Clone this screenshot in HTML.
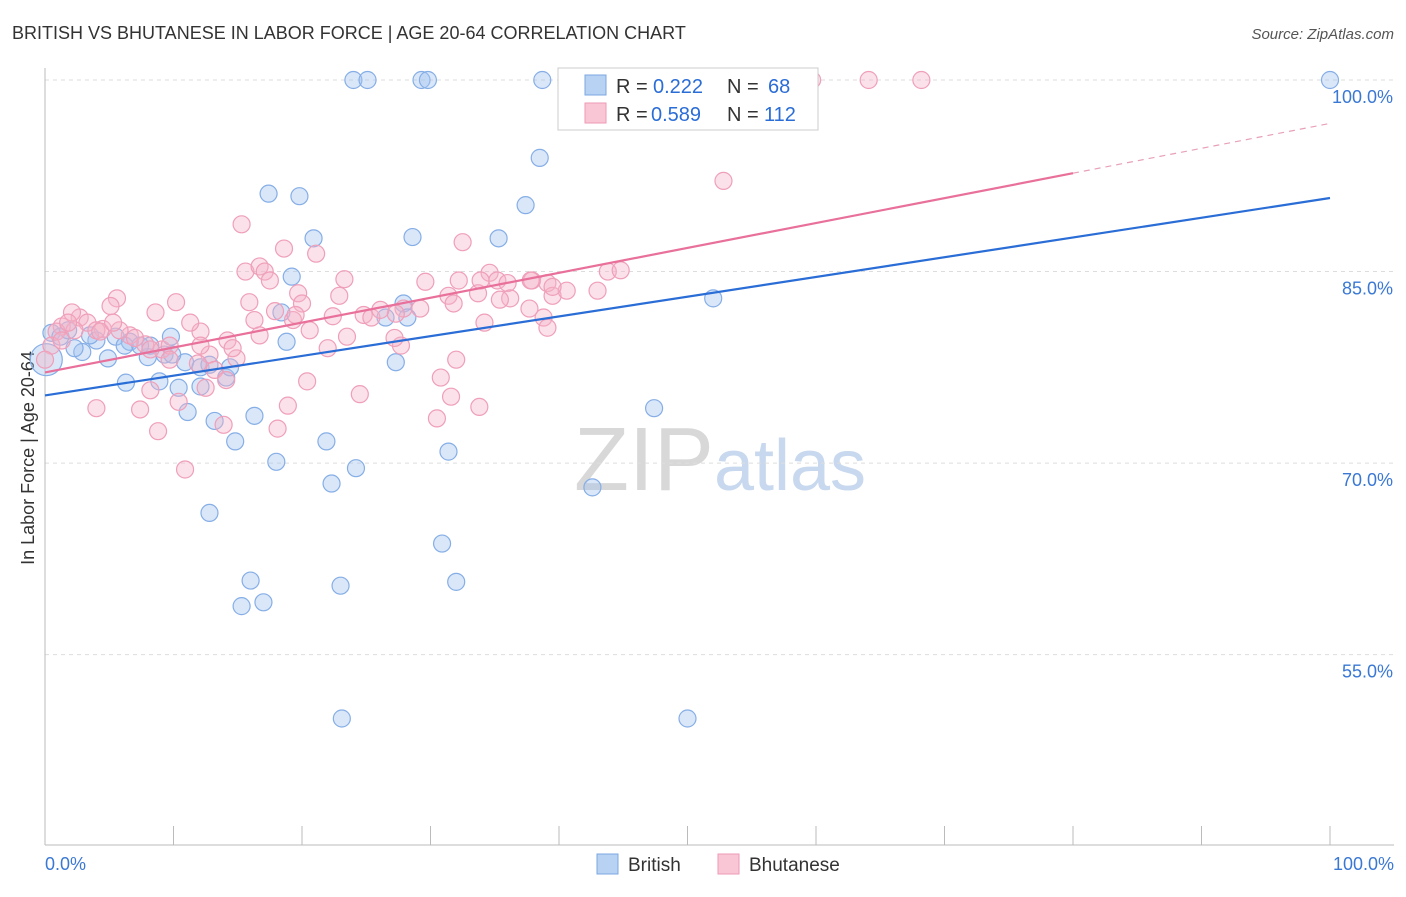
<!DOCTYPE html>
<html><head><meta charset="utf-8">
<style>
body{margin:0;background:#fff;font-family:"Liberation Sans",sans-serif;}
svg text{font-family:"Liberation Sans",sans-serif;}
</style></head>
<body>
<svg id="chart" width="1406" height="892" xmlns="http://www.w3.org/2000/svg">
<text x="12" y="39" font-size="18" fill="#333">BRITISH VS BHUTANESE IN LABOR FORCE | AGE 20-64 CORRELATION CHART</text>
<text x="1394" y="39" font-size="15" fill="#555" text-anchor="end" font-style="italic">Source: ZipAtlas.com</text>
<text transform="translate(34,458) rotate(-90)" font-size="18" fill="#333" text-anchor="middle">In Labor Force | Age 20-64</text>
<text x="720" y="490" font-size="90" text-anchor="middle" fill="#ddd" font-family="Liberation Serif"><tspan fill="#d8d8d8">ZIP</tspan><tspan fill="#c8d8ee" font-family="Liberation Sans" font-size="72">atlas</tspan></text>
<g id="grid"></g><g id="axes"></g><g id="blue"></g><g id="pink"></g><g id="lines"></g>
<g>
<rect x="558" y="68" width="260" height="62" fill="#fff" stroke="#ccc"/>
<rect x="585" y="75" width="21" height="20" fill="#b8d2f4" stroke="#7ba7e0"/>
<rect x="585" y="103" width="21" height="20" fill="#f9c6d5" stroke="#ee9ab5"/>
<text x="616" y="93" font-size="20" fill="#333">R =</text>
<text x="653" y="93" font-size="20" fill="#2a6dd6">0.222</text>
<text x="727" y="93" font-size="20" fill="#333">N =</text>
<text x="768" y="93" font-size="20" fill="#2a6dd6">68</text>
<text x="616" y="121" font-size="20" fill="#333">R =</text>
<text x="651" y="121" font-size="20" fill="#2a6dd6">0.589</text>
<text x="727" y="121" font-size="20" fill="#333">N =</text>
<text x="764" y="121" font-size="20" fill="#2a6dd6">112</text>
</g>
<g>
<rect x="597" y="854" width="21" height="20" fill="#b8d2f4" stroke="#7ba7e0"/>
<text x="628" y="871" font-size="19" fill="#333">British</text>
<rect x="718" y="854" width="21" height="20" fill="#f9c6d5" stroke="#ee9ab5"/>
<text x="749" y="871" font-size="19" fill="#333">Bhutanese</text>
</g>
</svg>
<script>
const yTicks=[100,85,70,55];
const yTickLabels=["100.0%","85.0%","70.0%","55.0%"];
const xTickLabels=["0.0%","100.0%"];
const blueX=[24.0,25.1,29.3,29.8,38.7,100,38.5,17.4,19.8,37.4,20.9,28.6,35.3,19.2,52.0,27.9,28.2,26.5,18.4,18.8,9.8,0.5,1.2,1.8,4.0,5.5,2.9,4.9,6.6,8.0,9.3,10.9,12.1,14.1,8.9,6.3,10.4,12.1,14.4,27.3,11.1,13.2,16.3,14.8,18.0,21.9,24.2,22.3,31.4,42.6,47.4,12.8,30.9,16.0,15.3,17.0,23.0,32.0,23.1,50.0,0.1,8.2,3.5,7.4,12.8,2.3,9.9,6.2];
const blueY=[100,100,100,100,100,100,93.9,91.1,90.9,90.2,87.6,87.7,87.6,84.6,82.9,82.5,81.4,81.4,81.8,79.5,79.9,80.2,79.9,80.4,79.6,79.9,78.7,78.2,79.5,78.3,78.5,77.9,77.5,76.7,76.4,76.3,75.9,76.0,77.5,77.9,74.0,73.3,73.7,71.7,70.1,71.7,69.6,68.4,70.9,68.1,74.3,66.1,63.7,60.8,58.8,59.1,60.4,60.7,50.0,50.0,78.1,79.2,80.0,79.2,77.7,79.0,78.5,79.2];
const pinkX=[59.7,64.1,68.2,52.8,15.3,32.5,18.6,21.1,15.6,16.7,17.1,43.8,44.8,34.6,29.6,32.2,35.2,36.0,37.9,39.1,23.3,5.6,5.1,8.6,10.2,15.9,17.9,19.7,20.0,22.9,24.8,27.9,29.2,31.4,33.7,36.2,39.5,40.6,43.0,37.7,38.8,39.1,34.2,27.3,25.4,22.4,19.3,16.3,14.2,12.1,11.3,6.6,5.8,4.5,2.7,2.1,3.3,4.0,1.3,0.9,0.5,7.8,9.1,9.7,12.8,14.9,11.9,13.2,14.1,12.5,10.4,8.2,7.4,4.0,8.8,10.9,13.9,18.1,18.9,20.4,24.5,27.7,27.2,22.0,23.5,30.8,31.6,32.0,33.8,30.5,31.8,37.8,39.5,0.0,1.3,2.3,4.3,7.0,5.3,1.8,9.7,14.6,17.5,19.5,35.4,33.9,26.1,20.6,12.1,16.7,8.2];
const pinkY=[100,100,100,92.1,88.7,87.3,86.8,86.4,85.0,85.4,85.0,85.0,85.1,84.9,84.2,84.3,84.3,84.1,84.3,84.1,84.4,82.9,82.3,81.8,82.6,82.6,81.9,83.3,82.5,83.1,81.6,82.1,82.1,83.1,83.3,82.9,83.1,83.5,83.5,82.1,81.4,80.6,81.0,81.7,81.4,81.5,81.2,81.2,79.6,80.3,81.0,80.0,80.4,80.5,81.4,81.8,81.0,80.4,80.7,80.3,79.2,79.3,78.9,79.2,78.5,78.2,77.8,77.3,76.5,75.9,74.8,75.7,74.2,74.3,72.5,69.5,73.0,72.7,74.5,76.4,75.4,79.2,79.8,79.0,79.9,76.7,75.2,78.1,74.4,73.5,82.5,84.3,83.8,78.1,79.6,80.4,80.3,79.8,81.0,81.0,78.1,79.0,84.3,81.6,82.8,84.3,82.0,80.4,79.2,80.0,78.9];
const blueTrend=[75.3,90.76];
const pinkTrend=[77.1,96.6];
const X=v=>45+v*12.85, Y=v=>80+(100-v)*12.77;
const NS="http://www.w3.org/2000/svg";
function mk(t,a,p){const e=document.createElementNS(NS,t);for(const k in a)e.setAttribute(k,a[k]);p.appendChild(e);return e;}
const grid=document.getElementById('grid'),axes=document.getElementById('axes');
yTicks.forEach((t,i)=>{
 const l=mk('line',{x1:45,x2:1394,y1:Y(t),y2:Y(t),stroke:'#ddd','stroke-dasharray':'4,4'},grid);
 
 
 const tx=mk('text',{x:1393,y:Y(t)+23,'font-size':18,fill:'#3a78d4','text-anchor':'end'},axes);
 tx.textContent=yTickLabels[i];
 
 
});
const ax=mk('line',{x1:45,x2:45,y1:68,y2:845,stroke:'#bbb'},axes);


const bx=mk('line',{x1:45,x2:1394,y1:845,y2:845,stroke:'#bbb'},axes);


for(let i=0;i<=10;i++){const t=mk('line',{x1:X(i*10),x2:X(i*10),y1:826,y2:845,stroke:'#bbb'},axes);
 
 }
[[0,'start',45],[100,'end',1394]].forEach((d,i)=>{const t=mk('text',{x:d[2],y:870,'font-size':18,fill:'#3a78d4','text-anchor':d[1]},axes);t.textContent=xTickLabels[i];
 
 });
function pts(xs,ys,g,fill,stroke,name){xs.forEach((x,i)=>{const c=mk('circle',{cx:X(x),cy:Y(ys[i]),r:(i==60&&name=='british-point')?16:8.5,fill:fill,stroke:stroke,'stroke-width':1.2},g);
 
 });}
pts(blueX,blueY,document.getElementById('blue'),'rgba(160,196,240,0.4)','#86aee6','british-point');
pts(pinkX,pinkY,document.getElementById('pink'),'rgba(245,180,200,0.4)','#ef9fb9','bhutanese-point');
const lg=document.getElementById('lines');
const b=mk('line',{x1:X(0),y1:Y(blueTrend[0]),x2:X(100),y2:Y(blueTrend[1]),stroke:'#2a6dd6','stroke-width':2.2},lg);


const pv=x=>pinkTrend[0]+(pinkTrend[1]-pinkTrend[0])*x/100;
const p=mk('line',{x1:X(0),y1:Y(pv(0)),x2:X(80),y2:Y(pv(80)),stroke:'#e8709a','stroke-width':2.2},lg);


const pd=mk('line',{x1:X(80),y1:Y(pv(80)),x2:X(100),y2:Y(pv(100)),stroke:'#e8a0b8','stroke-width':1.2,'stroke-dasharray':'6,5'},lg);


</script>
</body></html>
